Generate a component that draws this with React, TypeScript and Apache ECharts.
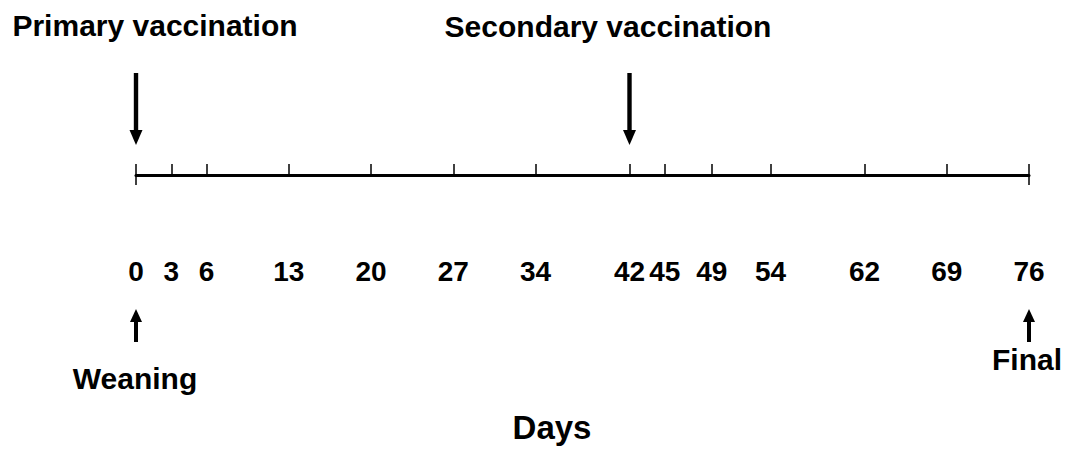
import React, { useEffect, useRef } from "react";
import * as echarts from "echarts";

// Timeline tick labels (days)
const days: number[] = [0, 3, 6, 13, 20, 27, 34, 42, 45, 49, 54, 62, 69, 76];
// Vaccination days (down arrows above the timeline)
const vaccinationDays: number[] = [0, 42];
const vaccinationLabels: string[] = ["Primary vaccination", "Secondary vaccination"];
// Milestone days (up arrows below the labels)
const milestoneDays: number[] = [0, 76];
const milestoneLabels: string[] = ["Weaning", "Final"];
const axisTitle = "Days";
const endTickDays: number[] = [days[0], days[days.length - 1]];

const FONT = '"Liberation Sans", Arial, Helvetica, sans-serif';

export default function App() {
  const ref = useRef<HTMLDivElement>(null);
  useEffect(() => {
    if (!ref.current) return;
    const chart = echarts.init(ref.current, null, { renderer: "svg" });

    const arrowData = [
      ...vaccinationDays.map((d) => [d, 0]),
      ...milestoneDays.map((d) => [d, 1]),
    ];

    const textStyle = (x: number, y: number, text: string, size: number) => ({
      type: "text",
      x,
      y,
      style: {
        text,
        fontSize: size,
        fontWeight: "bold",
        fontFamily: FONT,
        fill: "#000",
        align: "center",
        verticalAlign: "middle",
      },
    });

    chart.setOption({
      animation: false,
      backgroundColor: "#fff",
      grid: { left: 136, right: 38, top: 0, bottom: 274 },
      xAxis: [
        {
          type: "value",
          min: 0,
          max: 76,
          position: "bottom",
          axisLine: { show: true, lineStyle: { color: "#000", width: 3 } },
          axisTick: {
            show: true,
            customValues: days,
            inside: true,
            length: 11,
            lineStyle: { color: "#000", width: 1.5 },
          },
          axisLabel: {
            show: true,
            customValues: days,
            margin: 82,
            fontSize: 28,
            fontWeight: "bold",
            fontFamily: FONT,
            color: "#000",
            hideOverlap: false,
          },
          splitLine: { show: false },
        },
        {
          type: "value",
          min: 0,
          max: 76,
          position: "bottom",
          offset: 0,
          axisLine: { show: false },
          axisTick: {
            show: true,
            customValues: endTickDays,
            inside: false,
            length: 10,
            lineStyle: { color: "#000", width: 1.5 },
          },
          axisLabel: { show: false },
          splitLine: { show: false },
        },
      ],
      yAxis: { type: "value", min: 0, max: 1, show: false },
      series: [
        {
          type: "custom",
          clip: false,
          silent: true,
          xAxisIndex: 0,
          data: arrowData,
          renderItem: (_params: any, api: any) => {
            const day = api.value(0);
            const kind = api.value(1);
            const pt = api.coord([day, 0]);
            const x = pt[0];
            const y = pt[1];
            const style = { fill: "#000" };
            if (kind === 0) {
              return {
                type: "group",
                children: [
                  { type: "rect", shape: { x: x - 2.2, y: y - 102, width: 4.4, height: 58 }, style },
                  {
                    type: "polygon",
                    shape: { points: [[x - 6.5, y - 45], [x + 6.5, y - 45], [x, y - 30]] },
                    style,
                  },
                ],
              };
            }
            return {
              type: "group",
              children: [
                {
                  type: "polygon",
                  shape: { points: [[x - 6, y + 147], [x + 6, y + 147], [x, y + 134]] },
                  style,
                },
                { type: "rect", shape: { x: x - 2, y: y + 146, width: 4, height: 21 }, style },
              ],
            };
          },
        },
      ],
      graphic: [
        textStyle(155, 25, vaccinationLabels[0], 30),
        textStyle(608, 26, vaccinationLabels[1], 30),
        textStyle(135, 378, milestoneLabels[0], 30),
        textStyle(1027, 359, milestoneLabels[1], 30),
        textStyle(552, 427, axisTitle, 33),
      ],
    });

    return () => chart.dispose();
  }, []);

  return (
    <div
      ref={ref}
      style={{ position: "fixed", left: 0, top: 0, width: 1067, height: 449, background: "#fff" }}
    />
  );
}
